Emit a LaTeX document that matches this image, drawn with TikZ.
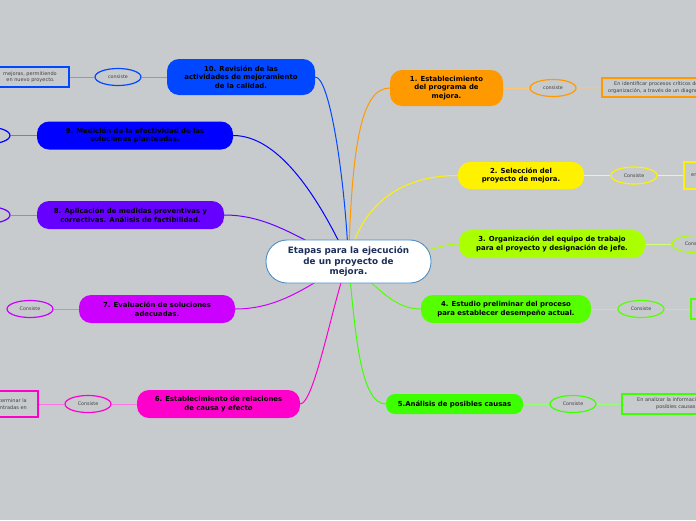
\documentclass[tikz,border=0pt]{standalone}
\usepackage{fontspec}
\setmainfont{DejaVu Sans}
\usetikzlibrary{shapes.geometric}
\pgfdeclarelayer{bglayer}
\pgfdeclarelayer{edgelayer}
\pgfsetlayers{bglayer,edgelayer,main}
\definecolor{bgc}{HTML}{C8CBCE}
\definecolor{cA}{HTML}{FF9900}
\definecolor{cB}{HTML}{FFF200}
\definecolor{cC}{HTML}{AAFF00}
\definecolor{cD}{HTML}{55FF00}
\definecolor{cE}{HTML}{3CFF00}
\definecolor{cF}{HTML}{FF00CC}
\definecolor{cG}{HTML}{CC00FF}
\definecolor{cH}{HTML}{6600FF}
\definecolor{cI}{HTML}{0000FF}
\definecolor{cJ}{HTML}{0047FF}
\definecolor{centerborder}{HTML}{4A8FC8}
\definecolor{centertext}{HTML}{1C2E5A}
\definecolor{smalltext}{HTML}{404040}
\begin{document}
\begin{tikzpicture}[x=1pt,y=-1pt,
  stage/.style={rounded corners=12pt, inner sep=0pt, align=center,
    font=\fontsize{6.9}{8.7}\selectfont\bfseries, text=black},
  oval/.style={ellipse, draw, line width=1.2pt, fill=bgc, minimum width=46pt,
    minimum height=17pt, inner sep=0pt, font=\fontsize{4.8}{5.5}\selectfont, text=smalltext},
  note/.style={draw, line width=1.2pt, fill=bgc, inner sep=0pt},
  notetext/.style={inner sep=0pt, font=\fontsize{5}{6.4}\selectfont, text=smalltext},
  mainline/.style={line width=1pt},
  subline/.style={line width=1pt}]
\clip (0,0) rectangle (696,520);
\begin{pgfonlayer}{bglayer}
\fill[bgc] (0,0) rectangle (696,520);
\end{pgfonlayer}

% center
\node[rounded corners=21pt, draw=centerborder, line width=0.9pt, fill=white,
  minimum width=165pt, minimum height=43pt, inner sep=0pt, align=center,
  font=\fontsize{8.8}{10.8}\selectfont\bfseries, text=centertext]
  (c) at (348.5,261.5) {Etapas para la ejecución\\de un proyecto de\\mejora.};

% right side stages
\node[stage, fill=cA, minimum width=113pt, minimum height=36pt] (n1) at (446.5,88)
  {1. Establecimiento\\del programa de\\mejora.};
\node[stage, fill=cB, minimum width=126pt, minimum height=27pt] (n2) at (521,175.5)
  {2. Selección del\\proyecto de mejora.};
\node[stage, fill=cC, minimum width=186pt, minimum height=28pt] (n3) at (552,244)
  {3. Organización del equipo de trabajo\\para el proyecto y designación de jefe.};
\node[stage, fill=cD, minimum width=170pt, minimum height=28pt] (n4) at (506,309)
  {4. Estudio preliminar del proceso\\para establecer desempeño actual.};
\node[stage, fill=cE, rounded corners=9pt, minimum width=137pt, minimum height=20pt] (n5) at (454.5,404)
  {5.Análisis de posibles causas};

% left side stages
\node[stage, fill=cJ, minimum width=148pt, minimum height=36pt] (n10) at (241,77)
  {10. Revisión de las\\actividades de mejoramiento\\de la calidad.};
\node[stage, fill=cI, minimum width=196pt, minimum height=28pt] (n9) at (135,135.5)
  {9. Medición de la efectividad de las\\soluciones planteadas.};
\node[stage, fill=cH, minimum width=187pt, minimum height=28pt] (n8) at (130.5,215)
  {8. Aplicación de medidas preventivas y\\correctivas. Análisis de factibilidad.};
\node[stage, fill=cG, minimum width=156pt, minimum height=28pt] (n7) at (157,309)
  {7. Evaluación de soluciones\\adecuadas.};
\node[stage, fill=cF, minimum width=163pt, minimum height=28pt] (n6) at (218.5,404)
  {6. Establecimiento de relaciones\\de causa y efecto};

% ovals
\node[oval, draw=cA] (e1) at (553,88) {consiste};
\node[oval, draw=cB] (e2) at (634,175.5) {Consiste};
\node[oval, draw=cC] (e3) at (695,244) {Consiste};
\node[oval, draw=cD] (e4) at (641,309) {Consiste};
\node[oval, draw=cE] (e5) at (573,404) {Consiste};
\node[oval, draw=cJ] (e10) at (118,77) {consiste};
\node[oval, draw=cI] (e9) at (-13,135.5) {};
\node[oval, draw=cH] (e8) at (-13,215) {};
\node[oval, draw=cG] (e7) at (30,309) {Consiste};
\node[oval, draw=cF] (e6) at (88,404) {Consiste};

% notes
\node[note, draw=cA, minimum width=200pt, minimum height=19pt] (b1) at (702,87.5) {};
\node[notetext, anchor=north west, align=left] (t1) at (608,81.5)
  {\hspace*{6pt}En identificar procesos críticos de la\\organización, a través de un diagnóstico};
\node[note, draw=cB, minimum width=120pt, minimum height=27pt] (b2) at (744,175.5) {};
\node[notetext, anchor=west] (t2) at (691,175.5) {en};
\node[note, draw=cD, minimum width=120pt, minimum height=20pt] (b4) at (751,309) {};
\node[note, draw=cE, minimum width=200pt, minimum height=20pt] (b5) at (722,404) {};
\node[notetext, anchor=north west, align=left] (t5) at (637,397.5)
  {En analizar la información de las\\\hspace*{19pt}posibles causas};
\node[note, draw=cJ, minimum width=150pt, minimum height=20pt] (b10) at (-6,77) {};
\node[notetext, anchor=east, align=right] (t10) at (57,77)
  {mejoras, permitiendo\\en nuevo proyecto.\hspace*{2pt}};
\node[note, draw=cF, minimum width=150pt, minimum height=26pt] (b6) at (-37,404) {};
\node[notetext, anchor=east, align=right] (t6) at (27,404)
  {y determinar la\\encontradas en};

% connectors
\begin{pgfonlayer}{edgelayer}
\draw[mainline, cA] (c.center) .. controls (352,150) and (360,88) .. (n1.west);
\draw[mainline, cB] (c.center) .. controls (360,205) and (400,175.5) .. (n2.west);
\draw[mainline, cC] (c.center) .. controls (420,262) and (430,244) .. (n3.west);
\draw[mainline, cD] (c.center) .. controls (380,290) and (395,309) .. (n4.west);
\draw[mainline, cE] (c.center) .. controls (355,330) and (360,404) .. (n5.west);
\draw[mainline, cJ] (c.center) .. controls (345,180) and (330,77) .. (n10.east);
\draw[mainline, cI] (c.center) .. controls (320,200) and (280,135.5) .. (n9.east);
\draw[mainline, cH] (c.center) .. controls (300,240) and (270,215) .. (n8.east);
\draw[mainline, cG] (c.center) .. controls (310,285) and (280,309) .. (n7.east);
\draw[mainline, cF] (c.center) .. controls (335,290) and (315,404) .. (n6.east);

\draw[subline, cA!55!white] (n1) -- (e1);
\draw[subline, cA!55!white] (e1) -- (b1);
\draw[subline, cB!55!white] (n2) -- (e2);
\draw[subline, cB!55!white] (e2) -- (b2);
\draw[subline, cC!55!white] (n3) -- (e3);
\draw[subline, cD!55!white] (n4) -- (e4);
\draw[subline, cD!55!white] (e4) -- (b4);
\draw[subline, cE!55!white] (n5) -- (e5);
\draw[subline, cE!55!white] (e5) -- (b5);
\draw[subline, cJ!55!white] (n10) -- (e10);
\draw[subline, cJ!55!white] (e10) -- (b10);
\draw[subline, cI!55!white] (n9) -- (e9);
\draw[subline, cH!55!white] (n8) -- (e8);
\draw[subline, cG!55!white] (n7) -- (e7);
\draw[subline, cF!55!white] (n6) -- (e6);
\draw[subline, cF!55!white] (e6) -- (b6);
\end{pgfonlayer}
\end{tikzpicture}
\end{document}
